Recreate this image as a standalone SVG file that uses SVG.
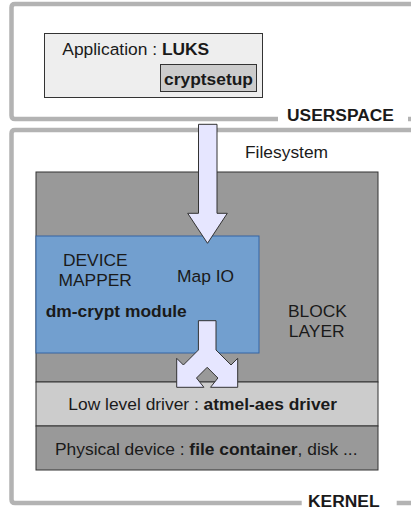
<svg xmlns="http://www.w3.org/2000/svg" width="411" height="510" viewBox="0 0 411 510">
<style>
text{font-family:"Liberation Sans",Arial,sans-serif;font-size:17.4px;fill:#1a1a1a}
.b{font-weight:bold}
.m{text-anchor:middle}
.frame{fill:none;stroke:#b3b3b3;stroke-width:4.5;stroke-linejoin:round}
.box{stroke:#333333;stroke-width:1}
.arrow{fill:#e6e6ff;stroke:#333333;stroke-width:1;stroke-linejoin:miter}
</style>
<rect width="411" height="510" fill="#ffffff"/>
<g id="userspace">
<path class="frame" d="M411,4 H15 Q11.5,4 11.5,7.5 V115.5 Q11.5,119 15,119 H278 M408,119 H411"/>
<text class="b" x="287" y="121" font-size="17">USERSPACE</text>
</g>
<g id="kernel">
<path class="frame" d="M411,130 H15 Q11.5,130 11.5,133.5 V499.5 Q11.5,503 15,503 H301.7 M396.7,503 H411"/>
<text class="b" x="308" y="507" font-size="17">KERNEL</text>
</g>
<g id="application">
<rect class="box" x="44.5" y="33.5" width="218" height="64" fill="#eeeeee"/>
<text x="62.3" y="55">Application : <tspan class="b">LUKS</tspan></text>
</g>
<g id="cryptsetup">
<rect class="box" x="160.5" y="64.5" width="96" height="27" fill="#cccccc"/>
<text class="b m" x="208.5" y="85">cryptsetup</text>
</g>
<g id="block-layer">
<rect class="box" x="36" y="172" width="342" height="210" fill="#999999"/>
<text class="m" x="317.5" y="317.3">BLOCK</text>
<text class="m" x="316.7" y="336.7">LAYER</text>
</g>
<g id="device-mapper">
<rect x="36" y="236" width="223" height="117" fill="#729fcf" stroke="#3465a4" stroke-width="1"/>
<text class="m" x="95.3" y="266">DEVICE</text>
<text class="m" x="95.2" y="285.7">MAPPER</text>
<text class="m" x="205.5" y="281.7">Map IO</text>
<text class="b" x="45.7" y="317.3">dm-crypt module</text>
</g>
<g id="low-level-driver">
<rect class="box" x="36" y="382" width="342" height="44" fill="#cccccc"/>
<text x="68.3" y="410">Low level driver : <tspan class="b">atmel-aes driver</tspan></text>
</g>
<g id="physical-device">
<rect class="box" x="36" y="426" width="342" height="44" fill="#999999"/>
<text x="55" y="455">Physical device : <tspan class="b">file container</tspan>, disk ...</text>
</g>
<g id="connectors">
<path class="arrow" d="M198.5,124.3 H217 V213.3 H227.3 L207.5,243.3 L187.7,213.3 H198.5 Z"/>
<path class="arrow" d="M198.4,320.7 H216 V350 L231,365 L237.7,358.3 V387.3 H210.5 L217.9,378 L207.2,367.3 L196.5,378 L203.9,387.3 H176.7 V358.3 L183.4,365 L198.4,350 Z"/>
<text x="245" y="158.3">Filesystem</text>
</g>
</svg>
